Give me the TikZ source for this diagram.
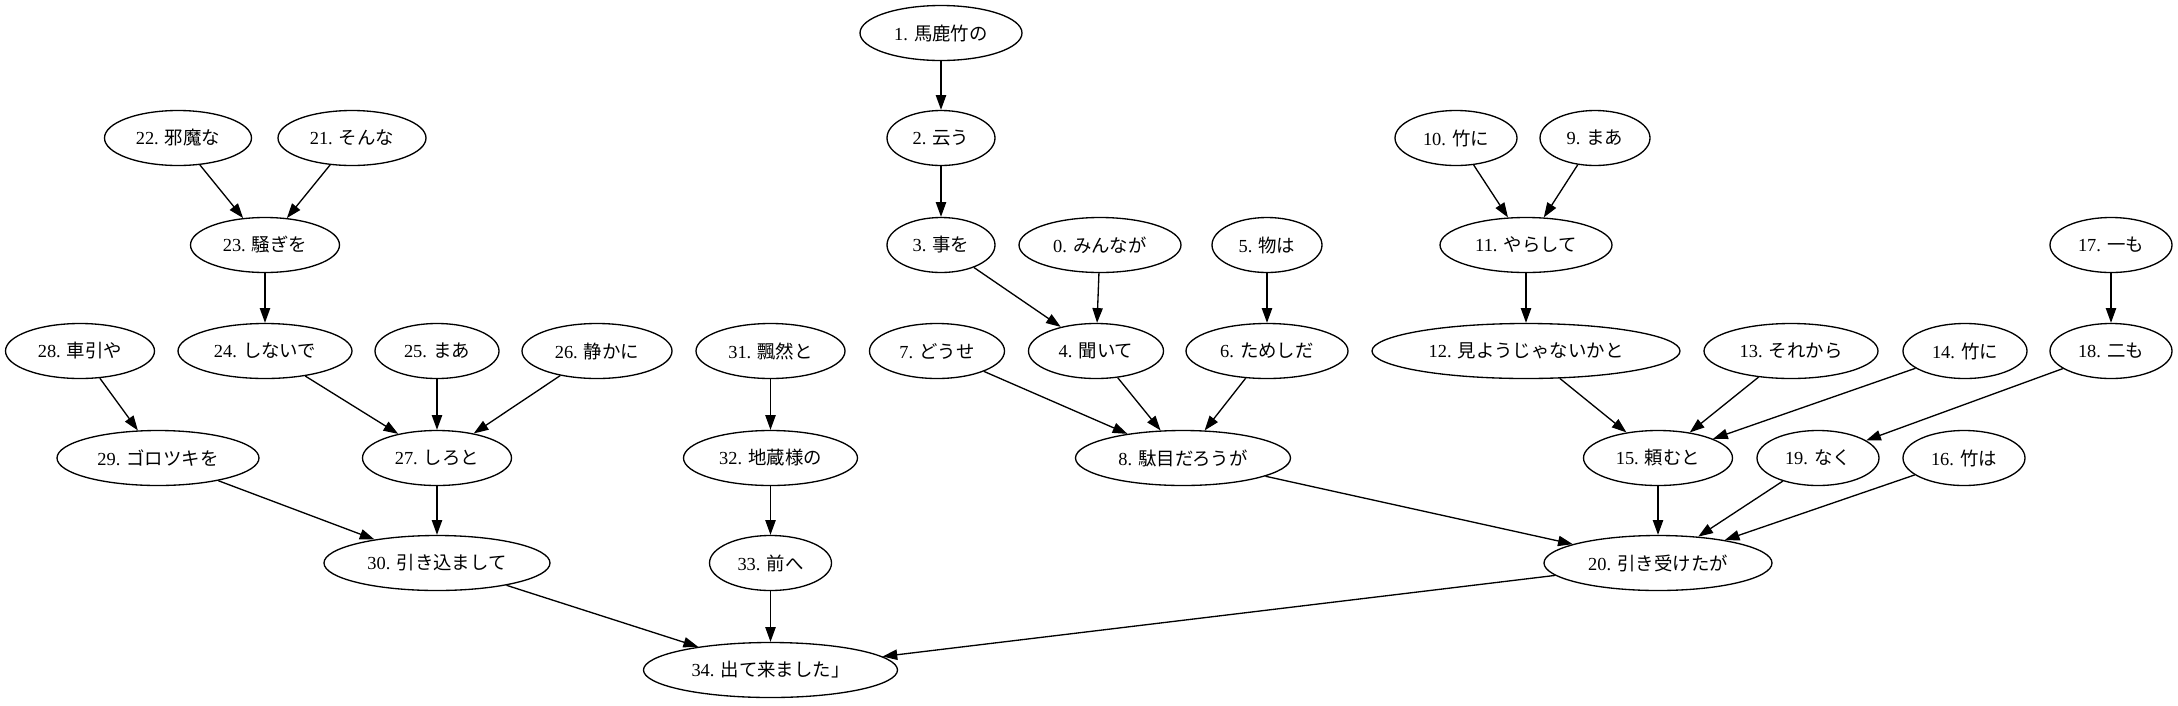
\documentclass[tikz,border=0pt]{standalone}
\usepackage{fontspec}
\setmainfont{Liberation Serif}
\newfontfamily\jp{Noto Sans CJK JP}
\usetikzlibrary{arrows.meta,shapes.geometric}
\def\u{0.679pt}
\tikzset{
  el/.style={draw, ellipse, line width=0.9pt, inner sep=0pt, minimum height=55*\u, minimum width=#1*\u, font=\fontsize{12.5pt}{15pt}\selectfont},
  ed/.style={draw, line width=0.9pt, -{Triangle[length=10pt,width=7pt]}}
}
\newcommand\nd[5]{\node[el=#4] (n#1) at (#2,#3) {#1. {\jp #5}};}
\begin{document}
\begin{tikzpicture}[x=\u, y=-\u]
\useasboundingbox (0,0) rectangle (2178,705);
\def\ra{33}\def\rb{138}\def\rc{245}\def\rd{351}\def\re{458}\def\rf{563}\def\rg{670}
\nd{1}{941}{\ra}{162}{馬鹿竹の}
\nd{22}{178}{\rb}{147}{邪魔な}
\nd{21}{352}{\rb}{148}{そんな}
\nd{2}{941}{\rb}{108}{云う}
\nd{10}{1456}{\rb}{122}{竹に}
\nd{9}{1595}{\rb}{110}{まあ}
\nd{23}{265}{\rc}{149}{騒ぎを}
\nd{3}{941}{\rc}{108}{事を}
\nd{0}{1100}{\rc}{162}{みんなが}
\nd{5}{1267}{\rc}{110}{物は}
\nd{11}{1526}{\rc}{172}{やらして}
\nd{17}{2111}{\rc}{122}{一も}
\nd{28}{80}{\rd}{149}{車引や}
\nd{24}{265}{\rd}{174}{しないで}
\nd{25}{437}{\rd}{124}{まあ}
\nd{26}{597}{\rd}{150}{静かに}
\nd{31}{770.5}{\rd}{149}{飄然と}
\nd{7}{937}{\rd}{135}{どうせ}
\nd{4}{1096}{\rd}{135}{聞いて}
\nd{6}{1267}{\rd}{162}{ためしだ}
\nd{12}{1526}{\rd}{308}{見ようじゃないかと}
\nd{13}{1791}{\rd}{174}{それから}
\nd{14}{1965}{\rd}{124}{竹に}
\nd{18}{2111}{\rd}{122}{二も}
\nd{29}{158}{\re}{202}{ゴロツキを}
\nd{27}{437}{\re}{149}{しろと}
\nd{32}{770.5}{\re}{174}{地蔵様の}
\nd{8}{1183}{\re}{215}{駄目だろうが}
\nd{15}{1658}{\re}{149}{頼むと}
\nd{19}{1818}{\re}{122}{なく}
\nd{16}{1964}{\re}{122}{竹は}
\nd{30}{437}{\rf}{226}{引き込まして}
\nd{33}{770.5}{\rf}{122}{前へ}
\nd{20}{1658}{\rf}{228}{引き受けたが}
\nd{34}{770.5}{\rg}{254}{出て来ました」}
\foreach \a/\b in {1/2,2/3,3/4,0/4,5/6,4/8,7/8,6/8,10/11,9/11,11/12,12/15,13/15,14/15,17/18,18/19,15/20,19/20,16/20,8/20,22/23,21/23,23/24,24/27,25/27,26/27,28/29,29/30,27/30,31/32,32/33,30/34,33/34,20/34}
  \draw[ed] (n\a) -- (n\b);
\end{tikzpicture}
\end{document}
